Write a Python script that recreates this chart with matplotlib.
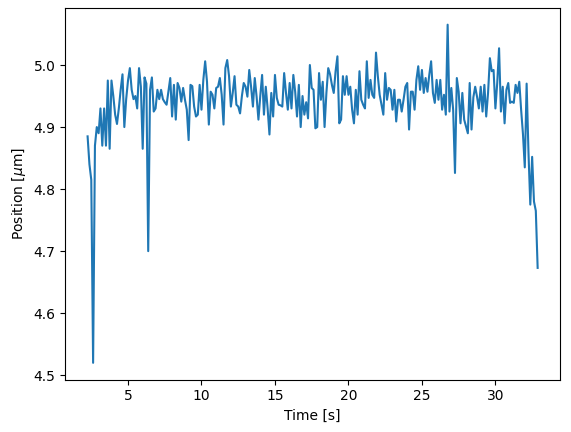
import numpy as np
import matplotlib
matplotlib.use('Agg')
import matplotlib.pyplot as plt

# sampling grid of the recording
t_start = 2.25
dt = 0.125

# position readings, one row per second (first row starts at 2.25 s)
position = [
    4.885, 4.84, 4.815, 4.52, 4.87, 4.90,
    4.89, 4.93, 4.87, 4.93, 4.87, 4.975, 4.865, 4.975,
    4.95, 4.92, 4.905, 4.93, 4.96, 4.985, 4.90, 4.945,
    4.975, 4.995, 4.96, 4.945, 4.95, 4.93, 4.995, 4.965,
    4.865, 4.98, 4.97, 4.70, 4.96, 4.98, 4.925, 4.93,
    4.96, 4.945, 4.96, 4.945, 4.94, 4.936, 4.957, 4.979,
    4.917, 4.968, 4.912, 4.971, 4.963, 4.941, 4.963, 4.944,
    4.928, 4.879, 4.968, 4.966, 4.933, 4.917, 4.92, 4.968,
    4.928, 4.976, 5.006, 4.973, 4.904, 4.957, 4.952, 4.93,
    4.963, 4.965, 4.979, 4.952, 4.904, 4.995, 5.008, 4.982,
    4.933, 4.955, 4.982, 4.936, 4.933, 4.922, 4.95, 4.971,
    4.965, 4.949, 4.992, 4.965, 4.933, 4.979, 4.949, 4.912,
    4.95, 4.984, 4.92, 4.965, 4.93, 4.888, 4.955, 4.917,
    4.984, 4.947, 4.936, 4.935, 4.933, 4.987, 4.955, 4.928,
    4.971, 4.93, 4.984, 4.957, 4.917, 4.968, 4.90, 4.95,
    4.92, 4.94, 4.914, 5.0, 4.963, 4.96, 4.898, 4.90,
    4.987, 4.944, 4.973, 4.9, 4.955, 4.995, 4.985, 4.968,
    4.955, 4.99, 5.014, 4.906, 4.912, 4.982, 4.952, 4.982,
    4.952, 4.965, 4.928, 4.906, 4.96, 4.92, 4.99, 4.944,
    4.936, 4.93, 5.006, 4.947, 4.976, 4.952, 4.947, 5.02,
    4.982, 4.952, 4.936, 4.92, 4.987, 4.944, 4.963, 4.96,
    4.928, 4.96, 4.909, 4.944, 4.944, 4.925, 4.944, 4.965,
    4.971, 4.896, 4.957, 4.957, 4.928, 4.976, 4.998, 4.96,
    4.992, 4.955, 4.979, 4.957, 4.984, 5.006, 4.955, 4.939,
    4.976, 4.944, 4.976, 4.928, 4.952, 4.92, 5.065, 4.925,
    4.963, 4.928, 4.826, 4.979, 4.957, 4.906, 4.955, 4.912,
    4.901, 4.89, 4.971, 4.896, 4.948, 4.965, 4.949, 4.93,
    4.965, 4.925, 4.968, 4.917, 4.955, 5.011, 4.99, 4.992,
    4.93, 4.971, 5.027, 4.925, 4.965, 4.906, 4.96, 4.971,
    4.939, 4.941, 4.939, 4.968, 4.955, 4.973, 4.928, 4.889,
    4.835, 4.97, 4.86, 4.775, 4.852, 4.78, 4.765, 4.673,
]

time = t_start + dt * np.arange(len(position))

fig = plt.figure(figsize=(5.71, 4.32), dpi=100)
fig.subplots_adjust(left=0.114, right=0.981, bottom=0.121, top=0.982)
plt.plot(time, position)
plt.xlabel('Time [s]')
plt.ylabel(r'Position [$\mu$m]')
plt.savefig('out.png', dpi=100)
